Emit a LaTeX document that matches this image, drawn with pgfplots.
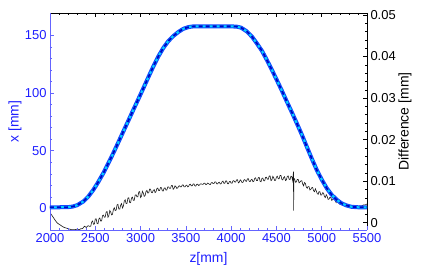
\documentclass[border=0pt]{standalone}
\usepackage{pgfplots}
\pgfplotsset{compat=1.18}
\usepackage{fontspec}
\setmainfont{Liberation Sans}
\definecolor{axblue}{RGB}{100,100,255}
\definecolor{txtblue}{RGB}{30,30,255}
\definecolor{outerblue}{RGB}{20,70,255}
\definecolor{innercyan}{RGB}{0,210,255}
\definecolor{dashblue}{RGB}{0,0,200}
\begin{document}
\begin{tikzpicture}
\path[use as bounding box] (-50bp,-38bp) rectangle (371bp,230bp);
% right axis (difference), drawn first
\begin{axis}[
  scale only axis, width=317bp, height=217bp,
  xmin=2000, xmax=5500, ymin=-0.00176, ymax=0.05048,
  axis x line*=top, axis y line*=right,
  scaled x ticks=false, scaled y ticks=false,
  xtick={2000,2500,3000,3500,4000,4500,5000,5500}, xticklabels={}, minor x tick num=4,
  ytick={0,0.01,0.02,0.03,0.04,0.05}, yticklabels={0,0.01,0.02,0.03,0.04,0.05}, minor y tick num=4,
  tick align=inside, major tick length=4bp, minor tick length=2bp,
  every tick/.style={black, line width=0.5bp},
  axis line style={black, line width=0.6bp},
  /pgf/number format/assume math mode=true,
  ticklabel style={font=\fontsize{13}{15}\selectfont, text=black},
  ylabel={Difference [mm]},
  every axis y label/.style={at={(rel axis cs:1,0.5)}, xshift=38bp, rotate=90, anchor=center, font=\fontsize{14}{16}\selectfont, text=black},
]
\addplot[black!90, line width=0.6bp] table {
2000 0.0024
2020 0.0018
2040 0.00115
2060 0.00049
2080 -0.00007
2100 -0.00037
2120 -0.00066
2140 -0.00095
2160 -0.00117
2180 -0.0013
2200 -0.00143
2220 -0.00157
2240 -0.0017
2260 -0.00168
2280 -0.00166
2300 -0.00155
2320 -0.0017
2340 -0.00147
2360 -0.00142
2380 -0.00085
2400 -0.00114
2420 -0.00072
2440 -0.0009
2450 -0.00083
2460 0.00014
2470 0.00041
2480 -0.00037
2490 -0.00032
2500 0.00088
2510 0.00093
2520 -0.00022
2530 -0.00026
2540 0.00091
2550 0.00113
2560 0.00038
2570 0.00044
2580 0.00169
2590 0.00183
2600 0.00132
2610 0.00138
2620 0.00255
2630 0.00269
2640 0.00131
2650 0.00169
2660 0.00294
2670 0.00261
2680 0.00187
2690 0.00202
2700 0.0032
2710 0.00359
2720 0.00293
2730 0.003
2740 0.00426
2750 0.00441
2760 0.00327
2770 0.00326
2780 0.00421
2790 0.0046
2800 0.00354
2810 0.00393
2820 0.00519
2830 0.0055
2840 0.0046
2850 0.00467
2860 0.00593
2870 0.006
2880 0.00486
2890 0.00481
2900 0.00596
2910 0.00615
2920 0.00538
2930 0.00541
2940 0.00663
2950 0.00674
2960 0.00621
2970 0.00624
2980 0.00739
2990 0.00748
3000 0.00605
3010 0.00637
3020 0.00756
3030 0.00715
3040 0.00634
3050 0.00651
3060 0.00749
3070 0.00777
3080 0.00714
3090 0.00719
3100 0.0081
3110 0.00805
3120 0.00729
3130 0.00723
3140 0.00777
3150 0.00797
3160 0.00726
3170 0.00746
3180 0.0082
3190 0.00834
3200 0.00773
3210 0.00772
3220 0.00846
3230 0.00845
3240 0.00768
3250 0.00762
3260 0.0083
3270 0.00839
3280 0.00787
3290 0.00786
3300 0.00859
3310 0.00863
3320 0.00826
3330 0.00825
3340 0.00893
3350 0.00897
3360 0.00805
3370 0.00829
3380 0.00887
3390 0.00866
3400 0.00825
3410 0.00837
3420 0.00878
3430 0.0089
3440 0.00862
3450 0.00862
3460 0.00907
3470 0.0091
3480 0.00864
3490 0.00861
3500 0.00893
3510 0.00905
3520 0.00862
3530 0.00873
3540 0.00917
3550 0.00926
3560 0.00889
3570 0.00888
3580 0.00932
3590 0.00931
3600 0.00885
3610 0.00882
3620 0.00923
3630 0.00928
3640 0.00897
3650 0.00904
3660 0.00934
3670 0.00936
3680 0.00922
3690 0.00922
3700 0.0095
3710 0.00952
3720 0.00916
3730 0.00924
3740 0.00954
3750 0.00944
3760 0.00924
3770 0.00917
3780 0.00958
3790 0.00969
3800 0.00941
3810 0.0094
3820 0.00983
3830 0.00984
3840 0.00937
3850 0.00933
3860 0.00964
3870 0.00975
3880 0.00931
3890 0.00941
3900 0.00984
3910 0.01001
3920 0.0095
3930 0.00948
3940 0.01005
3950 0.01003
3960 0.0094
3970 0.00934
3980 0.00988
3990 0.00994
4000 0.00952
4010 0.0095
4020 0.01008
4030 0.0101
4040 0.0098
4050 0.00978
4060 0.01032
4070 0.01034
4080 0.0096
4090 0.00974
4100 0.01032
4110 0.0101
4120 0.00968
4130 0.0097
4140 0.01024
4150 0.01038
4160 0.01
4170 0.00998
4180 0.01056
4190 0.01058
4200 0.00996
4210 0.0099
4220 0.01032
4230 0.01046
4240 0.00988
4250 0.00995
4260 0.01067
4270 0.01079
4280 0.01016
4290 0.01013
4300 0.01085
4310 0.0109
4320 0.00996
4330 0.00986
4340 0.01066
4350 0.01074
4360 0.0101
4370 0.01006
4380 0.01092
4390 0.01094
4400 0.01048
4410 0.01044
4420 0.01123
4430 0.01125
4440 0.01012
4450 0.01032
4460 0.01117
4470 0.01082
4480 0.01017
4490 0.01019
4500 0.01098
4510 0.01118
4520 0.01059
4530 0.01055
4540 0.0114
4550 0.01139
4560 0.01042
4570 0.01029
4580 0.01088
4590 0.01106
4600 0.01015
4610 0.01032
4620 0.01115
4630 0.01126
4640 0.01047
4650 0.01038
4660 0.01119
4670 0.01108
4680 0.01007
4688 0.0123
4690 0.0029
4692 0.01045
4700 0.01059
4710 0.00973
4720 0.00982
4730 0.0104
4740 0.01043
4750 0.00959
4760 0.0098
4770 0.01006
4780 0.01011
4790 0.00932
4800 0.00887
4810 0.00968
4820 0.00943
4830 0.00859
4840 0.00829
4850 0.0087
4860 0.00865
4870 0.00787
4880 0.00804
4890 0.00843
4900 0.00847
4910 0.00766
4920 0.00745
4930 0.00815
4940 0.00764
4950 0.00703
4960 0.00682
4970 0.00746
4980 0.00745
4990 0.00664
5000 0.00668
5010 0.00722
5020 0.00711
5030 0.00631
5040 0.00605
5050 0.00674
5060 0.00638
5070 0.00562
5080 0.00566
5090 0.00611
5100 0.0061
5110 0.00538
5120 0.00552
5130 0.00574
5140 0.0058
5150 0.00518
5160 0.00484
5170 0.0055
5180 0.00532
5190 0.00466
5200 0.00444
5210 0.00477
5220 0.00474
5230 0.00426
5240 0.00435
5250 0.00457
5260 0.00457
5270 0.0041
5280 0.00397
5290 0.00425
5300 0.00402
5320 0.0039
5340 0.00407
5360 0.00396
5380 0.00409
5400 0.00392
5420 0.00403
5440 0.00403
5460 0.00426
5480 0.00428
5500 0.0045
};
\end{axis}
% left axis (x position)
\begin{axis}[
  scale only axis, width=317bp, height=217bp,
  xmin=2000, xmax=5500, ymin=-18.7, ymax=169.3,
  axis x line*=bottom, axis y line*=left,
  scaled x ticks=false,
  xtick={2000,2500,3000,3500,4000,4500,5000,5500}, minor x tick num=4,
  ytick={0,50,100,150}, minor y tick num=4,
  tick align=inside, major tick length=4bp, minor tick length=2bp,
  every tick/.style={axblue, line width=0.5bp},
  axis line style={axblue, line width=0.6bp},
  /pgf/number format/assume math mode=true,
  /pgf/number format/1000 sep={},
  ticklabel style={font=\fontsize{13}{15}\selectfont, text=txtblue},
  xlabel={z[mm]}, ylabel={x [mm]},
  every axis x label/.style={at={(rel axis cs:0.5,0)}, yshift=-29bp, anchor=center, font=\fontsize{14}{16}\selectfont, text=txtblue},
  every axis y label/.style={at={(rel axis cs:0,0.5)}, xshift=-35bp, rotate=90, anchor=center, font=\fontsize{14}{16}\selectfont, text=txtblue},
]
\pgfplotstableread{
z x
2000 1
2100 1
2200 1.1
2250 1.6
2300 2.8
2368 6
2420 10
2478 16
2530 22.5
2589 30.6
2640 38.5
2699 47.9
2750 56.5
2810 66.7
2865 76
2920 85.4
2975 94.6
3030 104
3085 113.5
3141 123
3195 131.5
3251 139
3305 144.8
3362 149.4
3420 153
3472 155.6
3530 157.1
3582 157.7
4000 157.7
4060 157.5
4110 156.6
4172 153.4
4230 148.8
4282 143.2
4340 136.5
4393 128.8
4450 120
4503 111.4
4560 102
4614 92.7
4670 83.3
4724 73.9
4780 64
4834 53.7
4890 43.2
4945 33.4
5000 25
5055 17.6
5110 11.8
5166 7.5
5220 4.4
5276 2.5
5330 1.4
5400 1
5500 1
}\xdata
\addplot[outerblue, line width=4bp, line join=round] table[x=z, y=x] {\xdata};
\addplot[innercyan, line width=2bp, line join=round] table[x=z, y=x] {\xdata};
\addplot[dashblue, line width=1.8bp, dash pattern=on 4bp off 3bp] table[x=z, y=x] {\xdata};
\end{axis}
\end{tikzpicture}
\end{document}
